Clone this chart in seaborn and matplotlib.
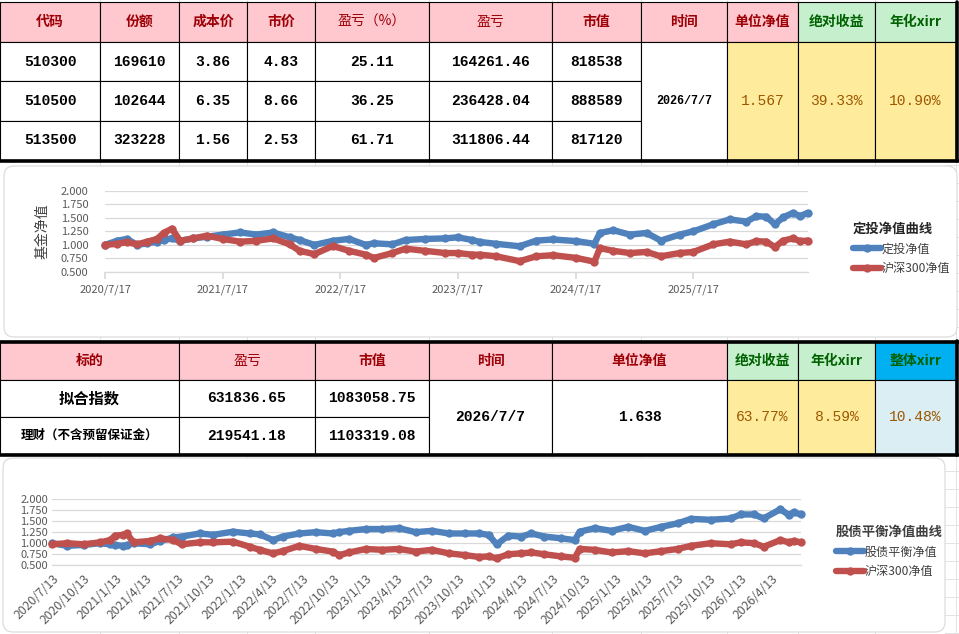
import pandas as pd
import matplotlib.pyplot as plt
import matplotlib.dates as mdates
from matplotlib.patches import Rectangle, FancyBboxPatch
import seaborn as sns

# ---------------- dados das tabelas ----------------
cabecalho_1 = ['代码', '份额', '成本价', '市价', '盈亏（%）', '盈亏', '市值', '时间', '单位净值', '绝对收益', '年化xirr']
codigos = ['510300', '510500', '513500']
cotas = ['169610', '102644', '323228']
custo = ['3.86', '6.35', '1.56']
preco = ['4.83', '8.66', '2.53']
lucro_pct = ['25.11', '36.25', '61.71']
lucro = ['164261.46', '236428.04', '311806.44']
valor = ['818538', '888589', '817120']
data_1 = '2026/7/7'
nav_1 = '1.567'
retorno_1 = '39.33%'
xirr_1 = '10.90%'

cabecalho_2 = ['标的', '盈亏', '市值', '时间', '单位净值', '绝对收益', '年化xirr', '整体xirr']
alvos = ['拟合指数', '理财（不含预留保证金）']
lucro_2 = ['631836.65', '219541.18']
valor_2 = ['1083058.75', '1103319.08']
data_2 = '2026/7/7'
nav_2 = '1.638'
retorno_2 = '63.77%'
xirr_2 = '8.59%'
xirr_total = '10.48%'

# ---------------- curva 1: 定投净值 x 沪深300 ----------------
datas_1 = ['2020-07-17', '2020-08-23', '2020-09-23', '2020-10-25', '2020-11-25', '2020-12-26',
           '2021-01-15', '2021-02-10', '2021-03-07', '2021-04-17', '2021-05-29', '2021-07-17',
           '2021-09-09', '2021-10-30', '2021-12-21', '2022-02-10', '2022-03-13', '2022-04-28',
           '2022-06-24', '2022-08-14', '2022-10-04', '2022-10-30', '2022-12-26', '2023-02-05',
           '2023-04-07', '2023-06-08', '2023-07-17', '2023-08-31', '2023-09-23', '2023-11-13',
           '2024-01-25', '2024-03-17', '2024-05-08', '2024-07-19', '2024-09-13', '2024-09-30',
           '2024-11-11', '2025-01-01', '2025-02-22', '2025-04-07', '2025-06-05', '2025-07-17',
           '2025-09-17', '2025-11-07', '2025-12-29', '2026-01-29', '2026-03-01', '2026-03-27',
           '2026-04-22', '2026-05-23', '2026-06-13', '2026-07-07']
dingtou = [1.00, 1.075, 1.11, 1.00, 1.03, 1.06,
           1.09, 1.12, 1.075, 1.12, 1.15, 1.19,
           1.23, 1.19, 1.23, 1.14, 1.09, 1.00,
           1.075, 1.11, 1.00, 1.03, 1.01, 1.09,
           1.11, 1.12, 1.14, 1.09, 1.055, 1.02,
           0.975, 1.08, 1.10, 1.07, 1.02, 1.22,
           1.27, 1.19, 1.22, 1.08, 1.19, 1.25,
           1.38, 1.47, 1.43, 1.53, 1.52, 1.38,
           1.51, 1.59, 1.53, 1.59]
hs300_1 = [1.00, 1.02, 1.05, 1.01, 1.06, 1.11,
           1.22, 1.30, 1.075, 1.12, 1.17, 1.11,
           1.06, 1.075, 1.12, 1.01, 0.89, 0.83,
           0.98, 0.89, 0.82, 0.76, 0.85, 0.93,
           0.89, 0.85, 0.85, 0.82, 0.82, 0.79,
           0.70, 0.79, 0.81, 0.76, 0.69, 0.94,
           0.89, 0.85, 0.87, 0.79, 0.85, 0.87,
           1.01, 1.06, 1.01, 1.07, 1.06, 0.96,
           1.08, 1.12, 1.07, 1.08]
ticks_1 = ['2020-07-17', '2021-07-17', '2022-07-17', '2023-07-17', '2024-07-17', '2025-07-17']

# ---------------- curva 2: 股债平衡净值 x 沪深300 ----------------
datas_2 = ['2020-07-13', '2020-08-26', '2020-10-13', '2020-11-30', '2020-12-30', '2021-01-13',
           '2021-02-06', '2021-02-16', '2021-03-08', '2021-04-25', '2021-05-25', '2021-07-02',
           '2021-07-26', '2021-09-18', '2021-10-27', '2021-12-23', '2022-02-10', '2022-03-11',
           '2022-04-19', '2022-05-17', '2022-07-05', '2022-08-22', '2022-10-10', '2022-10-29',
           '2022-11-27', '2023-01-15', '2023-03-04', '2023-04-21', '2023-06-09', '2023-07-27',
           '2023-09-14', '2023-11-01', '2023-12-10', '2024-01-08', '2024-02-01', '2024-03-06',
           '2024-04-13', '2024-05-12', '2024-06-19', '2024-08-07', '2024-09-16', '2024-09-30',
           '2024-11-13', '2025-01-01', '2025-02-19', '2025-04-08', '2025-05-26', '2025-07-13',
           '2025-08-21', '2025-10-18', '2025-12-15', '2026-01-13', '2026-02-21', '2026-03-21',
           '2026-05-09', '2026-06-02', '2026-06-17', '2026-07-07']
gu_zhai = [1.00, 0.94, 0.96, 1.00, 0.975, 0.96,
           0.94, 0.95, 1.00, 0.975, 1.05, 1.13,
           1.15, 1.22, 1.19, 1.26, 1.22, 1.20,
           1.07, 1.15, 1.22, 1.25, 1.22, 1.25,
           1.28, 1.32, 1.32, 1.34, 1.25, 1.28,
           1.22, 1.22, 1.22, 1.19, 0.975, 1.17,
           1.15, 1.22, 1.15, 1.11, 1.07, 1.26,
           1.34, 1.28, 1.37, 1.28, 1.37, 1.45,
           1.55, 1.53, 1.56, 1.65, 1.65, 1.56,
           1.77, 1.64, 1.70, 1.65]
hs300_2 = [0.975, 1.00, 0.975, 1.02, 1.07, 1.17,
           1.19, 1.22, 1.02, 1.05, 1.11, 1.07,
           0.975, 1.02, 1.02, 1.035, 0.92, 0.85,
           0.77, 0.82, 0.94, 0.87, 0.81, 0.73,
           0.79, 0.87, 0.85, 0.87, 0.81, 0.85,
           0.77, 0.73, 0.69, 0.70, 0.66, 0.75,
           0.77, 0.79, 0.75, 0.70, 0.67, 0.87,
           0.85, 0.79, 0.82, 0.77, 0.82, 0.87,
           0.94, 1.00, 0.975, 1.02, 1.00, 0.92,
           1.07, 1.02, 1.05, 1.02]
ticks_2 = ['2020-07-13', '2020-10-13', '2021-01-13', '2021-04-13', '2021-07-13', '2021-10-13',
           '2022-01-13', '2022-04-13', '2022-07-13', '2022-10-13', '2023-01-13', '2023-04-13',
           '2023-07-13', '2023-10-13', '2024-01-13', '2024-04-13', '2024-07-13', '2024-10-13',
           '2025-01-13', '2025-04-13', '2025-07-13', '2025-10-13', '2026-01-13', '2026-04-13']

AZUL = '#4F81BD'
VERMELHO = '#C0504D'
ROSA, TXT_ROSA = '#FFC7CE', '#9C0006'
VERDE, TXT_VERDE = '#C6EFCE', '#006100'
AMARELO, TXT_AMARELO = '#FFEB9C', '#9C5700'

sns.set_theme(style='white')
plt.rcParams['font.family'] = ['Noto Sans CJK SC', 'DejaVu Sans']

fig = plt.figure(figsize=(9.59, 6.34), dpi=100)
tela = fig.add_axes([0, 0, 1, 1])
tela.set_xlim(0, 959)
tela.set_ylim(634, 0)
tela.axis('off')

NUM = ['Liberation Mono', 'Noto Sans CJK SC']


def celula(x0, x1, y0, y1, texto, fc='white', cor='black', size=10.5, peso='bold', familia=NUM):
    tela.add_patch(Rectangle((x0, y0), x1 - x0, y1 - y0, facecolor=fc, edgecolor='black', lw=0.8, zorder=2))
    tela.text((x0 + x1) / 2, (y0 + y1) / 2, texto, ha='center', va='center', color=cor,
              fontsize=size, fontweight=peso, family=familia, zorder=3)


# linhas de grade do excel no fundo
for gx in [100, 179, 247, 315, 429, 552, 641, 727, 798, 875, 956]:
    tela.plot([gx, gx], [0, 634], color='#E3E3E3', lw=0.7, zorder=0)
for gy in range(165, 634, 18):
    tela.plot([945, 959], [gy, gy], color='#E3E3E3', lw=0.7, zorder=0)

# ---------------- tabela 1 ----------------
cols_1 = [0, 100, 179, 247, 315, 429, 552, 641, 727, 798, 875, 956]
linhas_1 = [2, 42, 81, 121, 160]
for i, h in enumerate(cabecalho_1):
    fc, cor = (VERDE, TXT_VERDE) if i >= 9 else (ROSA, TXT_ROSA)
    peso = 'normal' if h.startswith('盈亏') else 'bold'
    celula(cols_1[i], cols_1[i + 1], linhas_1[0], linhas_1[1], h, fc, cor, 10, peso, ['Noto Sans CJK SC'])
for r in range(3):
    valores = [codigos[r], cotas[r], custo[r], preco[r], lucro_pct[r], lucro[r], valor[r]]
    for c, v in enumerate(valores):
        celula(cols_1[c], cols_1[c + 1], linhas_1[r + 1], linhas_1[r + 2], v)
celula(cols_1[7], cols_1[8], linhas_1[1], linhas_1[4], data_1, size=8.5)
celula(cols_1[8], cols_1[9], linhas_1[1], linhas_1[4], nav_1, AMARELO, TXT_AMARELO, peso='normal')
celula(cols_1[9], cols_1[10], linhas_1[1], linhas_1[4], retorno_1, AMARELO, TXT_AMARELO, peso='normal')
celula(cols_1[10], cols_1[11], linhas_1[1], linhas_1[4], xirr_1, AMARELO, TXT_AMARELO, peso='normal')
tela.plot([0, 957.5], [160.5, 160.5], color='black', lw=2.6, zorder=4)
tela.plot([956.5, 956.5], [2, 161], color='black', lw=2.6, zorder=4)

# ---------------- tabela 2 ----------------
cols_2 = [0, 179, 315, 429, 552, 727, 798, 875, 956]
linhas_2 = [342, 380, 417, 454]
for i, h in enumerate(cabecalho_2):
    if i == 7:
        fc, cor = '#00B0F0', TXT_VERDE
    elif i >= 5:
        fc, cor = VERDE, TXT_VERDE
    else:
        fc, cor = ROSA, TXT_ROSA
    peso = 'normal' if h == '盈亏' else 'bold'
    celula(cols_2[i], cols_2[i + 1], linhas_2[0], linhas_2[1], h, fc, cor, 10, peso, ['Noto Sans CJK SC'])
celula(cols_2[0], cols_2[1], linhas_2[1], linhas_2[2], alvos[0], size=11, familia=['Noto Sans CJK SC'])
celula(cols_2[0], cols_2[1], linhas_2[2], linhas_2[3], alvos[1], size=9, familia=['Noto Sans CJK SC'])
for r in range(2):
    celula(cols_2[1], cols_2[2], linhas_2[r + 1], linhas_2[r + 2], lucro_2[r])
    celula(cols_2[2], cols_2[3], linhas_2[r + 1], linhas_2[r + 2], valor_2[r])
celula(cols_2[3], cols_2[4], linhas_2[1], linhas_2[3], data_2)
celula(cols_2[4], cols_2[5], linhas_2[1], linhas_2[3], nav_2)
celula(cols_2[5], cols_2[6], linhas_2[1], linhas_2[3], retorno_2, AMARELO, TXT_AMARELO, peso='normal')
celula(cols_2[6], cols_2[7], linhas_2[1], linhas_2[3], xirr_2, AMARELO, TXT_AMARELO, peso='normal')
celula(cols_2[7], cols_2[8], linhas_2[1], linhas_2[3], xirr_total, '#DAEEF3', TXT_AMARELO, peso='normal')
tela.plot([0, 957.5], [342, 342], color='black', lw=2.6, zorder=4)
tela.plot([0, 957.5], [454.5, 454.5], color='black', lw=2.6, zorder=4)
tela.plot([956.5, 956.5], [341, 455], color='black', lw=2.6, zorder=4)

# ---------------- caixas dos graficos ----------------
for (x0, y0, x1, y1) in [(4, 166, 957, 337), (3, 458, 945, 632)]:
    tela.add_patch(FancyBboxPatch((x0 + 10, y0 + 10), x1 - x0 - 20, y1 - y0 - 20,
                                  boxstyle='round,pad=10', facecolor='white',
                                  edgecolor='#D9D9D9', lw=0.8, zorder=1))


def fx(x):
    return x / 959


def fy(y):
    return 1 - y / 634


def estilo_eixo(ax):
    ax.set_facecolor('none')
    ax.set_ylim(0.5, 2.0)
    ax.set_yticks([0.5, 0.75, 1.0, 1.25, 1.5, 1.75, 2.0])
    ax.yaxis.set_major_formatter(plt.FuncFormatter(lambda v, p: f'{v:.3f}'))
    ax.grid(axis='y', color='#D9D9D9', lw=0.9)
    ax.grid(axis='x', visible=False)
    for lado in ['top', 'right', 'left']:
        ax.spines[lado].set_visible(False)
    ax.spines['bottom'].set_color('#D9D9D9')
    ax.spines['bottom'].set_linewidth(0.9)
    ax.tick_params(axis='both', labelsize=8, labelcolor='#595959')
    ax.tick_params(axis='y', length=0)
    ax.set_xlabel('')


estilo_linha = dict(lw=4.6, marker='o', markersize=6, markeredgewidth=0, clip_on=False)

# ---------------- grafico 1 ----------------
ax1 = fig.add_axes([fx(105), fy(272), (808 - 105) / 959, (272 - 190.7) / 634], zorder=5)
sns.lineplot(x=pd.to_datetime(datas_1), y=dingtou, ax=ax1, color=AZUL, label='定投净值', **estilo_linha)
sns.lineplot(x=pd.to_datetime(datas_1), y=hs300_1, ax=ax1, color=VERMELHO, label='沪深300净值', **estilo_linha)
estilo_eixo(ax1)
ax1.set_xlim(pd.Timestamp('2020-07-17'), pd.Timestamp('2026-07-08'))
ax1.set_xticks(pd.to_datetime(ticks_1))
ax1.xaxis.set_major_formatter(mdates.DateFormatter('%Y/%-m/%-d'))
ax1.tick_params(axis='x', length=5, color='#D9D9D9', direction='out', bottom=True, pad=4)
ax1.tick_params(axis='y', pad=12)
ax1.set_ylabel('基金净值', fontsize=10, color='#404040', labelpad=8)
ax1.legend(title='定投净值曲线', loc='upper left', bbox_to_anchor=(fx(842), fy(211)),
           bbox_transform=fig.transFigure, frameon=False, alignment='left', fontsize=8.7,
           labelcolor='#404040', handlelength=2.3, labelspacing=0.55, handletextpad=0.1,
           title_fontproperties={'weight': 'bold', 'size': 9.6})

# ---------------- grafico 2 ----------------
ax2 = fig.add_axes([fx(52), fy(565.3), (801 - 52) / 959, (565.3 - 499) / 634], zorder=5)
sns.lineplot(x=pd.to_datetime(datas_2), y=gu_zhai, ax=ax2, color=AZUL, label='股债平衡净值', **estilo_linha)
sns.lineplot(x=pd.to_datetime(datas_2), y=hs300_2, ax=ax2, color=VERMELHO, label='沪深300净值', **estilo_linha)
estilo_eixo(ax2)
ax2.set_xlim(pd.Timestamp('2020-07-13'), pd.Timestamp('2026-07-08'))
ax2.set_xticks(pd.to_datetime(ticks_2))
ax2.xaxis.set_major_formatter(mdates.DateFormatter('%Y/%-m/%-d'))
ax2.tick_params(axis='x', length=0, pad=5, labelsize=8.8)
ax2.tick_params(axis='y', pad=3)
for lbl in ax2.get_xticklabels():
    lbl.set_rotation(45)
    lbl.set_ha('right')
    lbl.set_rotation_mode('anchor')
ax2.set_ylabel('')
ax2.legend(title='股债平衡净值曲线', loc='upper left', bbox_to_anchor=(fx(825), fy(514)),
           bbox_transform=fig.transFigure, frameon=False, alignment='left', fontsize=8.7,
           labelcolor='#404040', handlelength=2.3, labelspacing=0.55, handletextpad=0.1,
           title_fontproperties={'weight': 'bold', 'size': 9.6})
ax2.get_legend().get_title().set_color('#404040')

fig.savefig('out.png', dpi=100)
